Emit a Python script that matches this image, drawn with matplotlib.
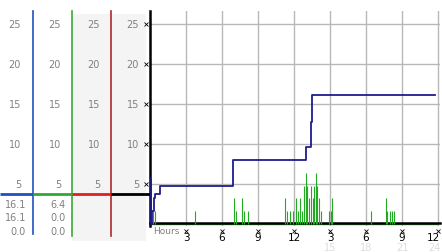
import matplotlib
matplotlib.use("Agg")
import matplotlib.pyplot as plt
from matplotlib.transforms import blended_transform_factory

# gust trace (hours, mph), drawn as steps
gust_h = [0.0, 0.05, 0.15, 0.3, 0.45, 0.85, 6.95, 13.0, 13.4, 13.5, 23.75]
gust_v = [5.6, 0.0, 1.6, 3.2, 3.8, 4.8, 8.0, 9.6, 12.8, 16.1, 16.1]

# wind spikes (hours, mph)
wind_h = [0.25, 0.4, 3.77, 7.04, 7.17, 7.67, 7.8, 8.17, 11.25, 11.4, 11.67, 11.9,
          12.17, 12.36, 12.5, 12.64, 12.83, 13.0, 13.1, 13.28, 13.4, 13.56, 13.67,
          13.83, 13.94, 14.1, 14.22, 14.94, 15.06, 15.14, 18.42, 19.67, 19.78,
          20.0, 20.17, 20.36]
wind_v = [1.6, 1.6, 1.6, 3.2, 1.6, 3.2, 1.6, 1.6, 3.2, 1.6, 1.6, 1.6,
          3.2, 1.6, 3.2, 1.6, 4.8, 6.4, 4.8, 3.2, 4.8, 3.2, 4.8,
          6.4, 4.8, 3.2, 1.6, 1.6, 1.6, 3.2, 1.6, 3.2, 1.6,
          1.6, 1.6, 1.6]

y_ticks = [5, 10, 15, 20, 25]
x_ticks = [3, 6, 9, 12, 15, 18, 21, 24]
x_labels = ["3", "6", "9", "12", "3", "6", "9", "12"]
x_labels2 = ["15", "18", "21", "24"]

cursor_val = 3.75
gust_read = ["16.1", "16.1", "0.0"]
wind_read = ["6.4", "0.0", "0.0"]

gust_col = "#1c1c8c"
wind_col = "#22aa22"
grey = "#808080"

W, H = 442, 253
fig = plt.figure(figsize=(W / 100, H / 100), dpi=100)

# overlay in pixel coords for the left panel
ov = fig.add_axes([0, 0, 1, 1])
ov.set_xlim(0, W)
ov.set_ylim(H, 0)
ov.axis("off")

ax = fig.add_axes([150 / W, (H - 226.6) / H, 290 / W, (226.6 - 12) / H])
ax.set_xlim(0, 290 / 12)
ax.set_ylim(-0.2, 26.6)

# main chart
ax.grid(True, color="#b8b8b8", lw=1)
ax.set_axisbelow(True)
ax.set_yticks(y_ticks)
ax.set_xticks(x_ticks)
ax.set_yticklabels([])
ax.set_xticklabels([])
ax.tick_params(length=0)
for s in ["top", "right"]:
    ax.spines[s].set_visible(False)
ax.spines["left"].set_linewidth(1.8)
ax.spines["bottom"].set_linewidth(1.8)
ax.spines["bottom"].set_position(("data", 0.12))

ax.hlines(0, 0, max(x_ticks), color=wind_col, lw=1, zorder=2)
ax.vlines(wind_h, 0, wind_v, color=wind_col, lw=0.8, zorder=3)
ax.step(gust_h, gust_v, where="post", color=gust_col, lw=1.3, zorder=4)

# tick labels, small x-shaped tick marks
tb = blended_transform_factory(ax.transData, ov.transData)
for i, (t, lab) in enumerate(zip(x_ticks, x_labels)):
    last = i == len(x_ticks) - 1
    ax.text(t + (0.2 if last else 0), 238.5, lab, transform=tb, fontsize=7.5,
            color="black", ha="right" if last else "center", va="center")
for i, (t, lab) in enumerate(zip(x_ticks[4:], x_labels2)):
    last = i == len(x_labels2) - 1
    ax.text(t + (0.2 if last else 0), 248.5, lab, transform=tb, fontsize=7,
            color="#dcdcdc", ha="right" if last else "center", va="center")
ax.plot(x_ticks, [231.5] * len(x_ticks), "x", ms=2.2, mew=0.6, color="black",
        transform=tb, clip_on=False)
ty = blended_transform_factory(ov.transData, ax.transData)
ax.plot([146] * len(y_ticks), y_ticks, "x", ms=2.2, mew=0.6, color="black",
        transform=ty, clip_on=False)

ax.text(153, 232, "Hours", transform=ov.transData, fontsize=6.5, color=grey,
        va="center", ha="left")

# legend
ov.plot(160, 20, "o", ms=5, mfc="#cc1111", mec="#440000", mew=0.8)
ov.text(165, 20.5, "Gust 02/17/08", fontsize=7, color="#2040a0", va="center")
ov.plot(302, 20, "o", ms=5, mfc="#cc1111", mec="#440000", mew=0.8)
ov.text(307, 20.5, "Wind 02/17/08", fontsize=7, color=wind_col, va="center")

# left panel
ov.fill_between([72, 146], 15, 242, color="#f4f4f4", lw=0, zorder=0)
ov.plot([33, 33], [12, 235], color="#2050c0", lw=1.2)
ov.plot([72, 72], [12, 237], color="#3aaa35", lw=1.2)
ov.plot([111, 111], [12, 237], color="#b02828", lw=1.2)

cy = blended_transform_factory(ov.transData, ax.transData)
col_right = [21, 61, 100, 139]
for xr in col_right:
    for v in y_ticks:
        ov.text(xr, v, str(v), transform=cy, fontsize=7, color=grey,
                ha="right", va="center")

segs = [(0, 33, "#2050c0"), (33, 72, "#30aa30"), (72, 111, "#dd2020"), (111, 150, "black")]
for x0, x1, c in segs:
    ov.plot([x0, x1], [cursor_val, cursor_val], color=c, lw=2, transform=cy,
            solid_capstyle="butt")

for i, (g, w) in enumerate(zip(gust_read, wind_read)):
    y = 205 + i * 13.3
    ov.text(26, y, g, fontsize=7, color=grey, ha="right", va="center")
    ov.text(66, y, w, fontsize=7, color=grey, ha="right", va="center")

fig.savefig("out.png", dpi=100)
